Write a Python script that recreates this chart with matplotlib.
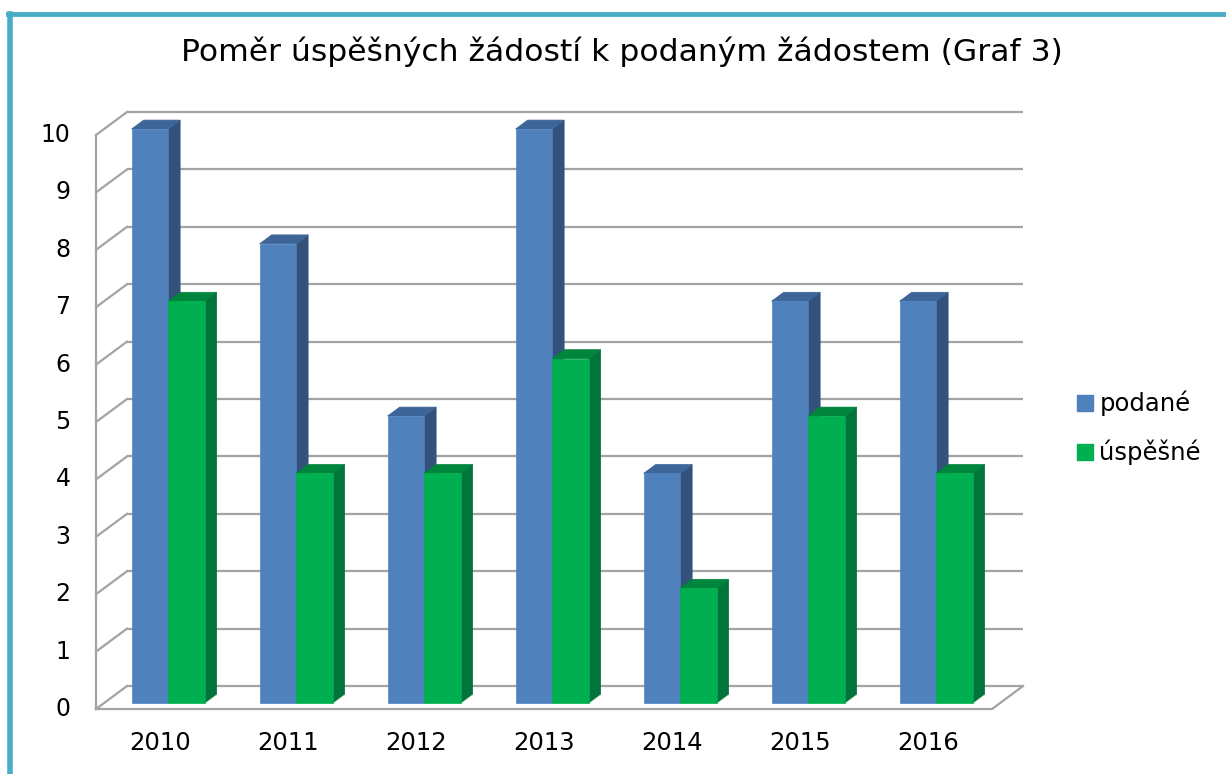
import matplotlib.pyplot as plt
from matplotlib.lines import Line2D
from matplotlib.patches import Polygon

years = ["2010", "2011", "2012", "2013", "2014", "2015", "2016"]
podane = [10, 8, 5, 10, 4, 7, 7]
uspesne = [7, 4, 4, 6, 2, 5, 4]
y_ticks = list(range(0, 11))

title = "Poměr úspěšných žádostí k podaným žádostem (Graf 3)"

# (front, top, side) colours per series
BLUE = ("#4f81bd", "#3d6598", "#34517c")
GREEN = ("#00b050", "#00853d", "#00743a")
GRID = "#a3a3a3"

# pseudo-3D depth in data units
DX, DY = 0.242, 0.40
BAR_W = 0.285
D0, D1 = 0.26, 0.65  # bar front / back depth fraction

fig = plt.figure(figsize=(12.26, 7.74), dpi=100)
ax = fig.add_axes([0, 0, 1, 1])
ax.set_xlim(-1.25, 8.328)
ax.set_ylim(-1.132, 12.352)
ax.axis("off")

x_lo, x_hi = -0.5, len(years) - 0.5

# walls and gridlines
for v in y_ticks:
    ax.plot([x_lo + DX, x_hi + DX], [v + DY, v + DY], color=GRID, lw=1.6,
            solid_capstyle="butt", zorder=1)
    ax.plot([x_lo, x_lo + DX], [v, v + DY], color=GRID, lw=1.6, zorder=1)
    ax.text(x_lo - 0.2, v, str(v), ha="right", va="center", fontsize=17)
ax.plot([x_lo, x_lo], [0, y_ticks[-1]], color=GRID, lw=1.6, zorder=1)
ax.plot([x_lo, x_hi, x_hi + DX], [0, 0, DY], color=GRID, lw=1.6, zorder=1)


def bar3d(x0, h, cols):
    fx0, fy0 = x0 + D0 * DX, D0 * DY
    fx1 = fx0 + BAR_W
    bx, by = (D1 - D0) * DX, (D1 - D0) * DY
    front = [(fx0, fy0), (fx1, fy0), (fx1, fy0 + h), (fx0, fy0 + h)]
    top = [(fx0, fy0 + h), (fx1, fy0 + h), (fx1 + bx, fy0 + h + by),
           (fx0 + bx, fy0 + h + by)]
    side = [(fx1, fy0), (fx1 + bx, fy0 + by), (fx1 + bx, fy0 + h + by),
            (fx1, fy0 + h)]
    for pts, c in ((side, cols[2]), (top, cols[1]), (front, cols[0])):
        ax.add_patch(Polygon(pts, closed=True, facecolor=c, edgecolor=c,
                             lw=0.5, zorder=3))


for i, (p, u) in enumerate(zip(podane, uspesne)):
    bar3d(i - BAR_W, p, BLUE)
    bar3d(i, u, GREEN)
    ax.text(i, -0.6, years[i], ha="center", va="center", fontsize=17.5)

ax.text(3.605, 11.45, title, ha="center", va="center", fontsize=22.6)

handles = [
    Line2D([], [], marker="s", ls="", markersize=11, color=BLUE[0], label="podané"),
    Line2D([], [], marker="s", ls="", markersize=11, color=GREEN[0], label="úspěšné"),
]
fig.legend(handles=handles, loc="center left", bbox_to_anchor=(1063 / 1226, 1 - 428 / 774),
           frameon=False, fontsize=17.5, handletextpad=0.1, labelspacing=0.95,
           handlelength=1.0, borderaxespad=0)

# frame accent on left and top
fig.add_artist(Line2D([10 / 1226, 10 / 1226], [0, 1 - 14 / 774], color="#4bacc6",
                      lw=4, transform=fig.transFigure))
fig.add_artist(Line2D([8 / 1226, 1], [1 - 14 / 774, 1 - 14 / 774], color="#4bacc6",
                      lw=3.5, transform=fig.transFigure))

fig.savefig("out.png", dpi=100)
